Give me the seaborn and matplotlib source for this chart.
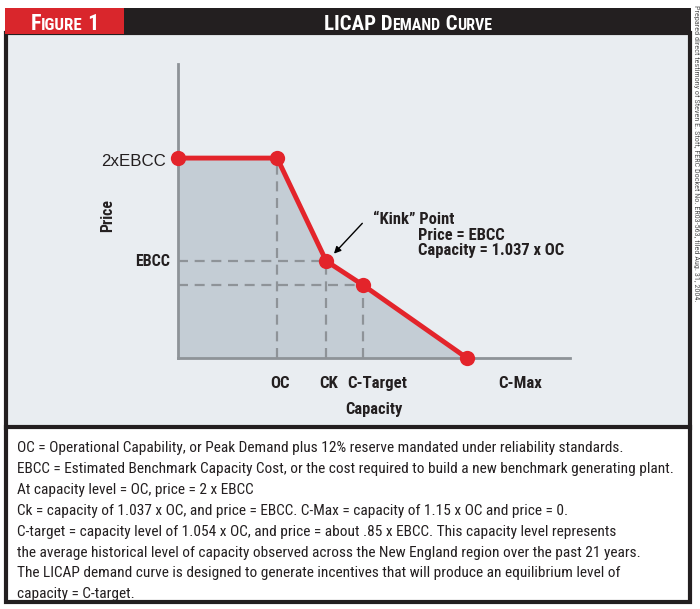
import matplotlib
matplotlib.use('Agg')
import matplotlib.pyplot as plt
import seaborn as sns
import pandas as pd
from matplotlib.patches import Rectangle
from matplotlib import font_manager as fm

sns.set_theme(style='white')

# narrowest sans that is installed
installed = {f.name for f in fm.fontManager.ttflist}
NARROW = [n for n in ['Roboto Condensed', 'Liberation Sans Narrow', 'Roboto', 'Liberation Sans']
          if n in installed][:1] + ['DejaVu Sans']
plt.rcParams['font.family'] = NARROW

# curve (schematic units, 0-100 on both axes)
capacity = [0, 25.3, 37.8, 47.2, 73.7]
price = [68.0, 68.0, 33.0, 24.8, 0]
point_names = ['Zero', 'OC', 'CK', 'C-Target', 'C-Max']

tick_pos = [26.0, 38.3, 50.8, 87.2]
tick_labels = ['OC', 'CK', 'C-Target', 'C-Max']

notes = [
    'OC = Operational Capability, or Peak Demand plus 12% reserve mandated under reliability standards.',
    'EBCC = Estimated Benchmark Capacity Cost, or the cost required to build a new benchmark generating plant.',
    'At capacity level = OC, price = 2 x EBCC',
    'Ck = capacity of 1.037 x OC, and price = EBCC. C-Max = capacity of 1.15 x OC and price = 0.',
    'C-target = capacity level of 1.054 x OC, and price = about .85 x EBCC. This capacity level represents',
    'the average historical level of capacity observed across the New England region over the past 21 years.',
    'The LICAP demand curve is designed to generate incentives that will produce an equilibrium level of',
    'capacity = C-target.',
]

RED = '#e3242b'
GRAY = '#8e9398'
INK = '#231f20'

df = pd.DataFrame({'capacity': capacity, 'price': price, 'point': point_names})

fig = plt.figure(figsize=(7, 6.09), dpi=100)
rend = fig.canvas.get_renderer()

# background frame, in pixel coordinates
bg = fig.add_axes([0, 0, 1, 1])
bg.set_xlim(0, 700)
bg.set_ylim(609, 0)
bg.axis('off')
bg.add_patch(Rectangle((6, 33), 684, 395, facecolor='#e9edf1', edgecolor=INK, lw=3))
bg.add_patch(Rectangle((6, 427), 684, 175, facecolor='white', edgecolor=INK, lw=3))
bg.add_patch(Rectangle((5, 8), 686, 26, facecolor=INK, edgecolor='none'))
bg.add_patch(Rectangle((5, 8), 119, 26, facecolor='#d9262c', edgecolor='none'))


def fit_size(s, width, weight='normal', family=None):
    # font size that makes s about `width` pixels wide
    t = bg.text(0, 0, s, fontsize=10, fontweight=weight, family=family or NARROW)
    w = t.get_window_extent(rend).width
    t.remove()
    return 10 * width / w


def small_caps(x, y, pieces, width):
    # pieces: (text, relative size); drawn one after another, centred on x
    texts = []
    for s, rel in pieces:
        texts.append(bg.text(0, y, s, fontsize=10 * rel, fontweight='bold', color='white',
                             ha='left', va='baseline'))
    total = sum(t.get_window_extent(rend).width for t in texts)
    for t, (s, rel) in zip(texts, pieces):
        t.set_fontsize(10 * rel * width / total)
    widths = [t.get_window_extent(rend).width for t in texts]
    cur = x - sum(widths) / 2
    for t, w in zip(texts, widths):
        t.set_x(cur)
        cur += w


small_caps(65, 30, [('F', 1.3), ('IGURE', 1.0), (' 1', 1.3)], 68)
small_caps(408, 30, [('LICAP D', 1.3), ('EMAND', 1.0), (' C', 1.3), ('URVE', 1.0)], 168)

side = 'Prepared direct testimony of Steven E. Stoft, FERC Docket No. ER03-563, filed Aug. 31, 2004.'
bg.text(696, 5, side, rotation=-90, fontsize=min(fit_size(side, 295), 8), color='#555555',
        ha='center', va='top')

body_size = fit_size(notes[1], 655)
for i, line in enumerate(notes):
    bg.text(17, 448 + i * 20.9, line, fontsize=body_size, color=INK, ha='left', va='center')

# chart
ax = fig.add_axes([178 / 700, (609 - 358) / 609, 392 / 700, 294 / 609])
ax.set_facecolor('none')
ax.set_xlim(0, 100)
ax.set_ylim(0, 100)
for s in ['top', 'right']:
    ax.spines[s].set_visible(False)
for s in ['left', 'bottom']:
    ax.spines[s].set_color(GRAY)
    ax.spines[s].set_linewidth(2)

ax.fill_between(df['capacity'], df['price'], 0, color='#c4cdd5', lw=0, zorder=1)

dash = dict(color=GRAY, lw=1.6, ls=(0, (4.5, 3)), zorder=2)
for name in ['OC', 'CK', 'C-Target']:
    row = df[df.point == name].iloc[0]
    ax.plot([row.capacity, row.capacity], [0, row.price], **dash)
    if name != 'OC':
        ax.plot([0, row.capacity], [row.price, row.price], **dash)

sns.lineplot(data=df, x='capacity', y='price', color=RED, lw=3.5, marker='o',
             markersize=11, markeredgewidth=0, sort=False, ax=ax, zorder=3, clip_on=False)

lab_size = fit_size('C-Target', 60, 'bold')
ax.set_xticks(tick_pos)
ax.set_xticklabels(tick_labels, fontsize=lab_size, fontweight='bold', color=INK)
ax.set_yticks([])
ax.tick_params(axis='x', length=0, pad=13)
ax.set_xlabel('Capacity', fontsize=fit_size('Capacity', 57, 'bold'), fontweight='bold',
              color=INK, labelpad=8)
ax.set_ylabel('')

bg.text(108, 215, 'Price', rotation=90, fontsize=fit_size('Price', 33, 'bold'), fontweight='bold',
        color=INK, ha='center', va='center')
bg.text(166, 162, '2xEBCC', fontsize=fit_size('2xEBCC', 65, family=['Liberation Sans', 'DejaVu Sans']),
        color=INK, ha='right', va='center', family=['Liberation Sans', 'DejaVu Sans'])
bg.text(170, 262, 'EBCC', fontsize=fit_size('EBCC', 35, 'bold'), fontweight='bold', color=INK,
        ha='right', va='center')

kink = df[df.point == 'CK'].iloc[0]
ax.annotate('', xy=(kink.capacity + 1.5, kink.price + 1.8), xytext=(47.5, 46.5),
            arrowprops=dict(arrowstyle='-|>', color='black', lw=1, mutation_scale=10))
note_size = fit_size('Capacity = 1.037 x OC', 146, 'bold')
bg.text(373, 219, '\u201cKink\u201d Point', fontsize=note_size, fontweight='bold', color=INK,
        ha='left', va='center')
bg.text(418, 235, 'Price = EBCC', fontsize=note_size, fontweight='bold', color=INK,
        ha='left', va='center')
bg.text(418, 250, 'Capacity = 1.037 x OC', fontsize=note_size, fontweight='bold', color=INK,
        ha='left', va='center')

fig.savefig('out.png', dpi=100)
